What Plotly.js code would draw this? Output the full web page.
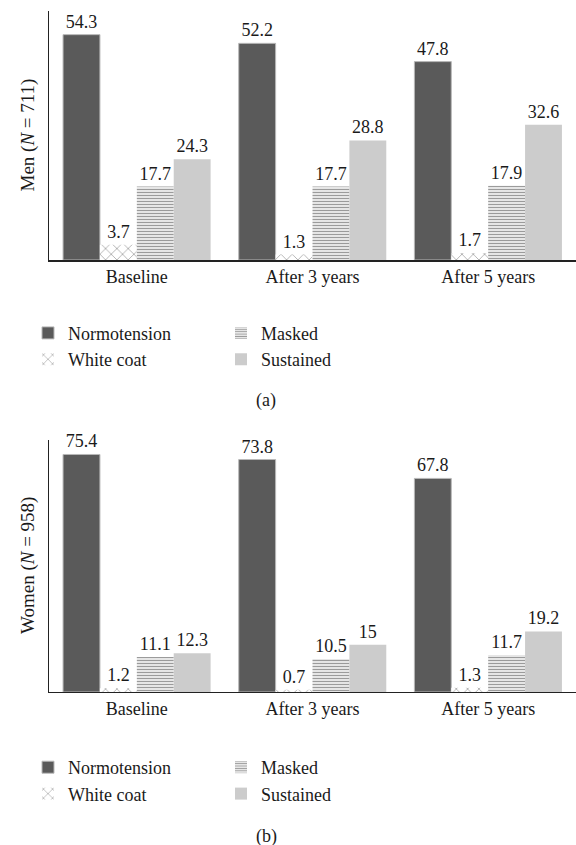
<!DOCTYPE html>
<html>
<head>
<meta charset="utf-8">
<script src="https://cdn.plot.ly/plotly-3.0.1.min.js"></script>
<style>html,body{margin:0;padding:0;background:#fff;}#chart{width:576px;height:845px;}</style>
</head>
<body>
<div id="chart"></div>
<script>
var categories = ["Baseline", "After 3 years", "After 5 years"];
var seriesNames = ["Normotension", "White coat", "Masked", "Sustained"];
var menNormotension = [54.3, 52.2, 47.8];
var menWhiteCoat = [3.7, 1.3, 1.7];
var menMasked = [17.7, 17.7, 17.9];
var menSustained = [24.3, 28.8, 32.6];
var womenNormotension = [75.4, 73.8, 67.8];
var womenWhiteCoat = [1.2, 0.7, 1.3];
var womenMasked = [11.1, 10.5, 11.7];
var womenSustained = [12.3, 15, 19.2];
var menTitle = "Men (<i>N</i> = 711)";
var womenTitle = "Women (<i>N</i> = 958)";

var FONT = "Liberation Serif, Times New Roman, serif";
var FS = 18;

var styles = [
  {marker: {color: "#5a5a5a", line: {color: "#b8b8b8", width: 1}}, rank: 1},
  {marker: {color: "#ffffff", line: {width: 0}, pattern: {shape: "x", fgcolor: "#a0a0a0", bgcolor: "#ffffff", size: 8, solidity: 0.18}}, rank: 3},
  {marker: {color: "#ffffff", line: {width: 0}, pattern: {shape: "-", fgcolor: "#9a9a9a", bgcolor: "#ffffff", size: 3, solidity: 0.5}}, rank: 2},
  {marker: {color: "#ffffff", line: {width: 0}, pattern: {shape: ".", fgcolor: "#8c8c8c", bgcolor: "#ffffff", size: 2, solidity: 0.5}}, rank: 4}
];

function makeTraces(seriesList, xa, ya, legendId) {
  return seriesList.map(function (vals, i) {
    return {
      type: "bar",
      name: seriesNames[i],
      x: categories,
      y: vals,
      xaxis: xa,
      yaxis: ya,
      legend: legendId,
      legendrank: styles[i].rank,
      marker: styles[i].marker,
      text: vals.map(String),
      textposition: "outside",
      constraintext: "none",
      cliponaxis: false,
      textfont: {family: FONT, size: FS, color: "#1a1a1a"},
      hoverinfo: "skip"
    };
  });
}

var data = makeTraces([menNormotension, menWhiteCoat, menMasked, menSustained], "x", "y", "legend")
  .concat(makeTraces([womenNormotension, womenWhiteCoat, womenMasked, womenSustained], "x2", "y2", "legend2"));

function xAxis(anchor) {
  return {
    anchor: anchor, domain: [0, 1], type: "category",
    showline: true, linecolor: "#222", linewidth: 1.5,
    ticks: "", showgrid: false, zeroline: false,
    tickfont: {family: FONT, size: FS, color: "#1a1a1a"},
    fixedrange: true
  };
}
function yAxis(anchor, dom, rng) {
  return {
    anchor: anchor, domain: dom, range: rng,
    showline: true, linecolor: "#222", linewidth: 1.5,
    showticklabels: false, ticks: "", showgrid: false, zeroline: false,
    fixedrange: true
  };
}
var legendBase = {
  orientation: "h", xref: "container", xanchor: "left", yanchor: "top",
  font: {family: FONT, size: FS, color: "#1a1a1a"},
  entrywidth: 148, bgcolor: "rgba(0,0,0,0)", traceorder: "normal"
};
function yTitle(text, yref) {
  return {text: text, xref: "paper", yref: yref, x: -21 / 527, y: 0.5, textangle: -90,
    showarrow: false, xanchor: "center", yanchor: "middle",
    font: {family: FONT, size: 19, color: "#1a1a1a"}};
}

var layout = {
  width: 576, height: 845,
  margin: {l: 49, r: 0, t: 0, b: 0, autoexpand: false},
  paper_bgcolor: "#ffffff", plot_bgcolor: "#ffffff",
  barmode: "group", bargap: 0.16, bargroupgap: 0,
  showlegend: true,
  xaxis: xAxis("y"),
  yaxis: yAxis("x", [0.6923, 0.9870], [0, 60]),
  xaxis2: xAxis("y2"),
  yaxis2: yAxis("x2", [0.1811, 0.4793], [0, 80]),
  legend: Object.assign({}, legendBase, {x: 28 / 576, y: 0.6276}),
  legend2: Object.assign({}, legendBase, {x: 28 / 576, y: 0.1136}),
  annotations: [
    yTitle(menTitle, "y domain"),
    yTitle(womenTitle, "y2 domain"),
    {text: "(a)", xref: "paper", yref: "paper", x: 0.412, y: (845 - 400) / 845, showarrow: false, xanchor: "center", yanchor: "middle", font: {family: FONT, size: FS, color: "#1a1a1a"}},
    {text: "(b)", xref: "paper", yref: "paper", x: 0.412, y: (845 - 836) / 845, showarrow: false, xanchor: "center", yanchor: "middle", font: {family: FONT, size: FS, color: "#1a1a1a"}}
  ]
};

Plotly.newPlot("chart", data, layout, {displayModeBar: false, staticPlot: true});
</script>
</body>
</html>
